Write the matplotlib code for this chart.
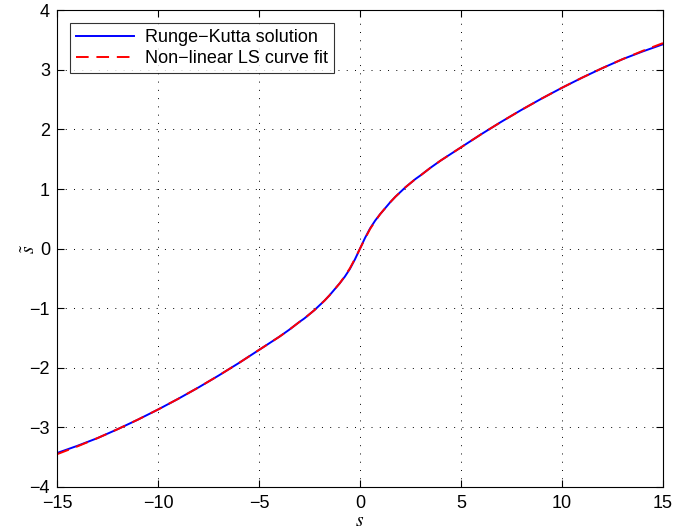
import numpy as np
import matplotlib
matplotlib.use('Agg')
import matplotlib.pyplot as plt

plt.rcParams['font.family'] = ['Liberation Sans', 'DejaVu Sans']
plt.rcParams['mathtext.fontset'] = 'stix'

# Runge-Kutta solution and least-squares fit (odd in s), positive half
s_pos = [0.0, 0.25, 0.5, 0.75, 1.0, 1.25, 1.5, 1.75, 2.0, 2.25, 2.5, 2.75,
         3.0, 3.5, 4.0, 4.5, 5.0, 6.0, 7.0, 8.0, 9.0, 10.0, 11.0, 12.0,
         13.0, 14.0, 15.0]
rk_pos = [0.0, 0.18, 0.34, 0.47, 0.58, 0.68, 0.78, 0.87, 0.95, 1.03, 1.10,
          1.17, 1.23, 1.36, 1.48, 1.59, 1.70, 1.92, 2.13, 2.33, 2.52, 2.70,
          2.87, 3.03, 3.18, 3.31, 3.43]
fit_pos = [0.0, 0.17, 0.33, 0.46, 0.58, 0.68, 0.78, 0.87, 0.95, 1.03, 1.10,
           1.17, 1.23, 1.36, 1.48, 1.59, 1.70, 1.92, 2.13, 2.33, 2.52, 2.70,
           2.87, 3.03, 3.18, 3.32, 3.45]

s = np.concatenate([-np.array(s_pos[:0:-1]), s_pos])
rk = np.concatenate([-np.array(rk_pos[:0:-1]), rk_pos])
fit = np.concatenate([-np.array(fit_pos[:0:-1]), fit_pos])

fig = plt.figure(figsize=(6.74, 5.32), dpi=100)
ax = fig.add_axes([0.0846, 0.0846, 0.899, 0.896])

ax.plot(s, rk, color='blue', lw=1.4, label='Runge\u2212Kutta solution')
ax.plot(s, fit, color='red', lw=1.4, ls=(0, (6.5, 4)),
        label='Non\u2212linear LS curve fit')

ax.set_xlim(-15, 15)
ax.set_ylim(-4, 4)
ax.set_xticks(np.arange(-15, 16, 5))
ax.set_yticks(np.arange(-4, 5, 1))
ax.set_xticklabels([str(v).replace('-', '\u2212') for v in range(-15, 16, 5)])
ax.set_yticklabels([str(v).replace('-', '\u2212') for v in range(-4, 5)])
ax.tick_params(direction='in', top=True, right=True, labelsize=13, length=5)
ax.tick_params(axis='x', pad=6)
ax.tick_params(axis='y', pad=5)
ax.grid(True, color='black', ls=(0, (1, 7.5)), lw=0.7)

ax.set_xlabel('$s$', fontsize=14)
ax.set_ylabel(r'$\tilde{s}$', fontsize=14)
ax.xaxis.set_label_coords(0.5, -0.055)
ax.yaxis.set_label_coords(-0.03, 0.5)

leg = ax.legend(loc='upper left', fontsize=13, frameon=True, fancybox=False,
                edgecolor='black', borderpad=0.35, handlelength=3.2,
                handletextpad=0.6, labelspacing=0.2, borderaxespad=0.7)
leg.get_frame().set_linewidth(0.8)

fig.savefig('out.png', dpi=100)
